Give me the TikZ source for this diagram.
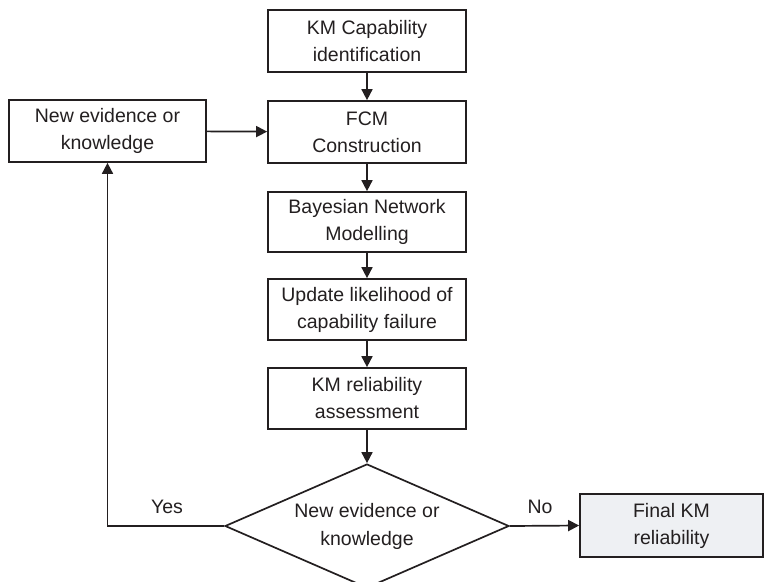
\documentclass[tikz,border=0pt]{standalone}
\usepackage{fontspec}
\setmainfont{Liberation Sans}
\usetikzlibrary{arrows.meta,shapes.geometric}
\definecolor{ink}{HTML}{231F20}
\definecolor{shade}{HTML}{EEF0F3}
\begin{document}
\begin{tikzpicture}[x=1pt,y=-1pt,
  txt/.style={text=ink, font=\fontsize{19.5}{27}\selectfont},
  box/.style={txt, draw=ink, line width=1.7pt, rectangle, minimum width=198pt,
    minimum height=62pt, inner sep=0pt, align=center},
  decision/.style={txt, draw=ink, line width=1.7pt, diamond, aspect=2.29,
    minimum width=284pt, minimum height=124pt, inner sep=0pt, align=center},
  arr/.style={draw=ink, line width=1.7pt, -{Triangle[length=11pt,width=11pt]}},
  lbl/.style={txt}
]
\useasboundingbox (0,0) rectangle (765,581);

% main chain
\node[box] (cap)    at (367,41)    {KM Capability\\identification};
\node[box] (fcm)    at (367,132)   {FCM\\Construction};
\node[box, minimum height=60pt] (bn) at (367,222) {Bayesian Network\\Modelling};
\node[box, minimum height=61pt] (upd) at (367,309.5) {Update likelihood of\\capability failure};
\node[box, minimum height=61pt] (rel) at (367,398.5) {KM reliability\\assessment};
\node[decision] (dec) at (367,526) {\raisebox{-4pt}{\begin{tabular}{@{}c@{}}New evidence or\\[1pt]knowledge\end{tabular}}};

% side boxes
\node[box, minimum width=197pt] (new) at (107.5,131) {New evidence or\\knowledge};
\node[box, fill=shade, minimum width=183pt, minimum height=63pt] (fin) at (671.5,525.5) {Final KM\\reliability};

% connectors
\draw[arr] (cap) -- (fcm);
\draw[arr] (fcm) -- (bn);
\draw[arr] (bn) -- (upd);
\draw[arr] (upd) -- (rel);
\draw[arr] (rel) -- (dec);
\draw[arr] (new) -- (fcm);
\draw[arr] (dec.east) -- (fin.west);
\draw[arr] (dec.west) -| (new.south);

% branch labels
\node[lbl] (yes) at (167,507) {Yes};
\node[lbl] (no)  at (540,507) {No};
\end{tikzpicture}
\end{document}
